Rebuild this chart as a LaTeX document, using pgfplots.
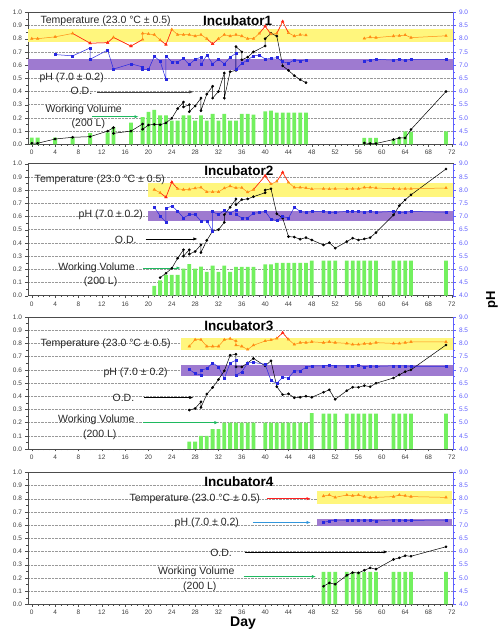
\documentclass[border=0pt]{standalone}
\usepackage{pgfplots}
\pgfplotsset{compat=1.18}
\usepackage{fontspec}
\setmainfont{Liberation Sans}
\usetikzlibrary{arrows.meta}
\definecolor{tband}{RGB}{255,246,125}
\definecolor{pband}{RGB}{158,122,208}
\definecolor{torange}{RGB}{255,140,20}
\definecolor{tred}{RGB}{255,30,30}
\definecolor{phblue}{RGB}{40,40,225}
\definecolor{rblue}{RGB}{95,95,255}
\definecolor{wvgreen}{RGB}{115,240,95}
\definecolor{agreen}{RGB}{30,185,95}
\definecolor{ablue}{RGB}{50,150,220}
\tikzset{
  txt/.style={font=\fontsize{10.5}{12}\selectfont, text=black!85},
  ttl/.style={font=\fontsize{13.5}{15}\selectfont\bfseries},
  arr/.style={-{Latex[length=4pt,width=3.2pt]}, line width=0.6pt}
}
\pgfplotsset{
  common/.style={scale only axis, width=425pt, height=132pt, xmin=-0.65, xmax=72.2,
    tick align=outside, unbounded coords=jump, major tick length=2.5pt, minor tick length=1.5pt,
    /pgf/number format/assume math mode=true,
    ticklabel style={font=\fontsize{6.5}{7}\selectfont}},
  leftax/.style={common, ymin=0, ymax=1, ytick={0,0.1,0.2,0.3,0.4,0.5,0.6,0.7,0.8,0.9,1.0},
    minor y tick num=1, xtick={0,4,...,72}, minor x tick num=3, tick pos=left,
    ymajorgrids, grid style={densely dotted, black!40, line width=0.4pt},
    axis line style={black!70}, tick style={black!70},
    xticklabel style={text=black!75},
    yticklabel style={text=black!75, /pgf/number format/.cd, fixed, fixed zerofill, precision=1}},
  rightax/.style={common, ymin=4, ymax=9, axis y line*=right, axis x line=none,
    ytick={4,4.5,...,9}, minor y tick num=1, axis line style={rblue}, tick style={rblue},
    yticklabel style={text=rblue, /pgf/number format/.cd, fixed, fixed zerofill, precision=1}},
  bars/.style={ybar, bar width=0.65, bar shift=0pt, fill=wvgreen, draw=none},
  odl/.style={black, line width=0.5pt, mark=*, mark size=1.1pt},
  phl/.style={phblue, line width=0.5pt, mark=square*, mark size=1.0pt},
  tl/.style={torange, line width=0.5pt, mark=triangle*, mark size=1.4pt},
  tredl/.style={tred, line width=0.5pt},
  tredm/.style={only marks, tred, mark=triangle*, mark size=1.5pt}
}
\begin{document}
\begin{tikzpicture}
\useasboundingbox (0,0) rectangle (500pt,633pt);
% ================= Panel 1 =================
\begin{axis}[leftax, at={(28pt,488.7pt)}, anchor=south west]
\addplot[fill=tband, draw=none] coordinates {(-0.65,0.778) (72.2,0.778) (72.2,0.874) (-0.65,0.874)} -- cycle;
\addplot[fill=pband, draw=none] coordinates {(-0.65,0.563) (72.2,0.563) (72.2,0.644) (-0.65,0.644)} -- cycle;
\addplot[bars] coordinates {(0,0.05) (1,0.05) (4,0.05) (7,0.05) (10,0.085) (13,0.09) (14,0.13) (17,0.165) (19,0.205) (20,0.245) (21,0.26) (22,0.22) (23,0.22) (24,0.18) (25,0.18) (26,0.22) (27,0.22) (28,0.18) (29,0.22) (30,0.18) (31,0.23) (32,0.18) (33,0.23) (34,0.18) (35,0.18) (36,0.23) (37,0.23) (38,0.225) (40,0.25) (41,0.255) (42,0.24) (43,0.24) (44,0.24) (45,0.24) (46,0.24) (47,0.24) (57,0.048) (58,0.048) (59,0.048) (62,0.04) (63,0.05) (64,0.098) (65,0.095) (71,0.098)};
\addplot[odl] coordinates {(0,0.008) (1,0.008) (4,0.04) (7,0.053) (10,0.058) (13,0.10) (14,0.126) (14,0.083) (17,0.10) (19,0.154) (19,0.114) (20,0.146) (21,0.151) (22,0.148) (23,0.162) (24,0.197) (25,0.27) (26,0.32) (26,0.283) (27,0.30) (27,0.247) (28,0.29) (29,0.35) (29,0.255) (30,0.38) (31,0.44) (31,0.35) (32,0.40) (33,0.54) (33,0.35) (34,0.55) (35,0.56) (35,0.74) (36,0.70) (36,0.64) (37,0.66) (38,0.70) (40,0.745) (40,0.80) (41,0.84) (42,0.82) (43,0.594) (44,0.56) (45,0.52) (46,0.49) (47,0.467) (52,nan) (57,0.01) (58,0.006) (59,0.006) (62,0.036) (63,0.048) (64,0.048) (65,0.112) (71,0.40)};
\node[ttl] at (axis cs:35.3,0.937) {Incubator1};
\node[txt, anchor=west] at (axis cs:0.9,0.932) {Temperature (23.0 °C ± 0.5)};
\node[txt, anchor=west] at (axis cs:0.74,0.507) {pH (7.0 ± 0.2)};
\node[txt] at (axis cs:8.5,0.403) {O.D.};
\draw[arr, black!75] (axis cs:11.2,0.397) -- (axis cs:27.7,0.397);
\node[txt] at (axis cs:8.9,0.265) {Working Volume};
\node[txt] at (axis cs:9.7,0.159) {(200 L)};
\draw[arr, agreen] (axis cs:10.4,0.209) -- (axis cs:18.3,0.209);
\end{axis}
\begin{axis}[rightax, at={(28pt,488.7pt)}, anchor=south west]
\addplot[tl] coordinates {(0,8.00) (1,8.00) (4,8.07) (7,8.20) (10,7.83) (13,7.85) (14,8.05) (17,7.72) (19,7.97) (19,8.20) (20,8.18) (21,8.15) (22,7.95) (23,7.78) (24,8.35) (25,8.15) (26,8.15) (27,8.15) (28,8.10) (29,8.15) (30,8.00) (31,7.80) (32,8.00) (33,8.15) (34,8.10) (35,8.15) (36,8.10) (37,8.00) (38,8.00) (39,8.20) (40,8.47) (41,8.17) (42,8.20) (43,8.65) (44,8.22) (45,8.10) (46,8.15) (47,8.13) (52,nan) (57,8.01) (58,8.06) (59,8.04) (62,8.10) (63,8.11) (64,8.14) (65,8.04) (71,8.11)};
\addplot[tredl] coordinates {(7,8.20) (10,7.83) (13,7.85) (14,8.05) (17,7.72) (19,7.97) (20,nan) (22,7.95) (23,7.78) (24,8.35) (28,nan) (30,8.00) (31,7.80) (32,8.00) (35,nan) (39,8.20) (40,8.47) (41,8.17) (41.5,nan) (42,8.20) (43,8.65) (44,8.22)};
\addplot[tredm] coordinates {(10,7.83) (13,7.85) (17,7.72) (23,7.78) (31,7.80) (40,8.47) (43,8.65)};
\addplot[phl] coordinates {(4,7.40) (7,7.35) (10,7.65) (10,7.22) (13,7.57) (14,6.85) (17,7.05) (19,6.93) (19,6.83) (20,6.83) (21,7.33) (22,7.15) (23,6.45) (23,7.35) (24,7.12) (25,7.12) (26,7.25) (27,7.02) (28,7.22) (29,7.30) (29,7.02) (30,7.38) (31,7.05) (32,7.22) (33,7.05) (34,7.30) (35,7.45) (35,6.84) (36,7.06) (37,7.20) (38,7.35) (39,7.38) (40,7.23) (41,7.25) (42,7.28) (43,7.13) (44,7.07) (45,7.20) (46,7.16) (47,7.20) (52,nan) (57,7.15) (58,7.18) (59,7.22) (62,7.19) (63,7.22) (64,7.18) (65,7.22) (71,7.22)};
\end{axis}
% ================= Panel 2 =================
\begin{axis}[leftax, at={(28pt,337.3pt)}, anchor=south west]
\addplot[fill=tband, draw=none] coordinates {(19.9,0.749) (72.2,0.749) (72.2,0.855) (19.9,0.855)} -- cycle;
\addplot[fill=pband, draw=none] coordinates {(19.9,0.563) (72.2,0.563) (72.2,0.645) (19.9,0.645)} -- cycle;
\addplot[bars] coordinates {(21,0.074) (22,0.117) (23,0.157) (24,0.157) (25,0.157) (26,0.205) (27,0.24) (28,0.205) (29,0.22) (30,0.18) (31,0.228) (32,0.18) (33,0.228) (34,0.18) (35,0.218) (36,0.218) (37,0.218) (38,0.218) (40,0.238) (41,0.238) (42,0.248) (43,0.248) (44,0.248) (45,0.248) (46,0.248) (47,0.248) (48,0.266) (50,0.266) (51,0.266) (52,0.266) (54,0.266) (55,0.266) (56,0.266) (57,0.266) (58,0.266) (59,0.266) (62,0.266) (63,0.266) (64,0.266) (65,0.266) (71,0.266)};
\addplot[odl] coordinates {(22,0.137) (23,0.17) (24,0.208) (25,0.284) (26,0.348) (26,0.30) (27,0.348) (27,0.315) (28,0.335) (29,0.386) (29,0.327) (30,0.419) (31,0.49) (32,0.50) (33,0.556) (33,0.614) (34,0.67) (35,0.733) (35,0.69) (36,0.728) (37,0.733) (38,0.75) (40,0.78) (40,0.80) (41,0.81) (42,0.62) (43,0.588) (44,0.448) (45,0.444) (46,0.428) (47,0.44) (48,0.422) (50,0.384) (51,0.402) (52,0.36) (54,0.41) (55,0.436) (56,0.422) (57,0.43) (58,0.44) (59,0.478) (62,0.612) (63,0.682) (64,0.726) (65,0.764) (71,0.96)};
\node[ttl] at (axis cs:35.5,0.944) {Incubator2};
\node[txt, anchor=west] at (axis cs:-0.1,0.88) {Temperature (23.0 °C ± 0.5)};
\node[txt, anchor=west] at (axis cs:7.44,0.614) {pH (7.0 ± 0.2)};
\node[txt] at (axis cs:16.1,0.42) {O.D.};
\draw[arr, black] (axis cs:19.5,0.43) -- (axis cs:28.4,0.43);
\node[txt] at (axis cs:11.1,0.21) {Working Volume};
\node[txt] at (axis cs:11.8,0.105) {(200 L)};
\draw[arr, agreen] (axis cs:19.1,0.21) -- (axis cs:25.5,0.21);
\end{axis}
\begin{axis}[rightax, at={(28pt,337.3pt)}, anchor=south west]
\addplot[tl] coordinates {(21,8.02) (22,7.90) (23,7.73) (24,8.30) (25,8.05) (26,8.02) (27,8.03) (28,8.07) (29,8.10) (30,7.93) (31,7.93) (32,7.93) (33,8.07) (34,8.15) (35,8.08) (36,8.09) (37,7.92) (38,8.02) (40,8.54) (41,8.23) (42,8.33) (43,8.67) (44,8.29) (45,8.10) (46,8.10) (47,8.08) (48,8.04) (50,8.05) (51,8.04) (52,8.05) (54,8.04) (55,8.05) (56,8.05) (57,8.10) (58,8.10) (59,8.08) (62,8.05) (63,8.04) (64,8.05) (65,8.05) (71,8.08)};
\addplot[tredl] coordinates {(22,7.90) (23,7.73) (24,8.30) (25,8.05) (30,nan) (38,8.02) (40,8.54) (41,8.23) (41.5,nan) (42,8.33) (43,8.67) (44,8.29)};
\addplot[tredm] coordinates {(23,7.73) (24,8.30) (40,8.54) (43,8.67)};
\addplot[phl] coordinates {(21,7.36) (22,7.02) (23,6.78) (23,7.30) (24,7.40) (25,7.20) (26,6.95) (27,7.07) (28,7.07) (29,6.83) (30,6.83) (31,6.45) (31,7.18) (32,7.07) (33,7.23) (34,7.13) (35,7.25) (35,7.07) (36,6.95) (37,6.95) (38,7.12) (39,7.15) (40,7.19) (41,6.90) (42,6.84) (43,7.00) (44,6.94) (45,7.35) (46,7.19) (47,7.16) (48,7.19) (50,7.19) (51,7.16) (52,7.16) (54,7.19) (55,7.19) (56,7.19) (57,7.16) (58,7.19) (59,7.16) (62,7.19) (63,7.16) (64,7.16) (65,7.19) (71,7.16)};
\end{axis}
% ================= Panel 3 =================
\begin{axis}[leftax, at={(28pt,184pt)}, anchor=south west]
\addplot[fill=tband, draw=none] coordinates {(25.5,0.748) (72.2,0.748) (72.2,0.844) (25.5,0.844)} -- cycle;
\addplot[fill=pband, draw=none] coordinates {(25.5,0.552) (72.2,0.552) (72.2,0.635) (25.5,0.635)} -- cycle;
\addplot[bars] coordinates {(27,0.055) (28,0.055) (29,0.10) (30,0.10) (31,0.15) (32,0.15) (33,0.20) (34,0.20) (35,0.20) (36,0.20) (37,0.20) (38,0.20) (40,0.20) (41,0.20) (42,0.20) (43,0.20) (44,0.20) (45,0.20) (46,0.20) (47,0.20) (48,0.272) (50,0.268) (51,0.268) (52,0.268) (54,0.268) (55,0.268) (56,0.268) (57,0.268) (58,0.268) (59,0.268) (62,0.268) (63,0.268) (64,0.268) (65,0.268) (71,0.268)};
\addplot[odl] coordinates {(27,0.295) (28,0.307) (29,0.358) (29,0.315) (30,0.416) (31,0.466) (32,0.526) (33,0.592) (34,0.71) (35,0.718) (35,0.622) (36,0.622) (37,0.652) (38,0.686) (40,0.63) (41,0.668) (42,0.472) (43,0.412) (44,0.418) (45,0.388) (46,0.392) (47,0.40) (48,0.392) (50,0.43) (51,0.448) (52,0.376) (54,0.442) (55,0.468) (56,0.468) (57,0.48) (58,0.472) (59,0.498) (62,0.538) (63,0.562) (64,0.586) (65,0.60) (71,0.788)};
\node[ttl] at (axis cs:35.5,0.937) {Incubator3};
\node[txt, anchor=west] at (axis cs:0.9,0.80) {Temperature (23.0 °C ± 0.5)};
\node[txt, anchor=west] at (axis cs:11.7,0.58) {pH (7.0 ± 0.2)};
\node[txt] at (axis cs:15.7,0.385) {O.D.};
\draw[arr, black] (axis cs:19.3,0.39) -- (axis cs:27.7,0.39);
\node[txt] at (axis cs:11.05,0.22) {Working Volume};
\node[txt] at (axis cs:11.65,0.11) {(200 L)};
\draw[arr, agreen] (axis cs:19.1,0.2) -- (axis cs:32.0,0.2);
\end{axis}
\begin{axis}[rightax, at={(28pt,184pt)}, anchor=south west]
\addplot[tl] coordinates {(27,7.89) (28,8.14) (29,8.14) (30,7.89) (31,7.89) (32,7.89) (33,8.14) (34,8.18) (35,8.09) (35,7.93) (36,7.89) (37,7.77) (38,7.93) (40,8.09) (41,8.13) (42,8.19) (43,8.40) (44,8.15) (45,7.96) (46,8.03) (47,8.03) (48,8.06) (50,8.03) (51,8.06) (52,8.03) (54,8.00) (55,7.96) (56,7.96) (57,7.99) (58,7.99) (59,8.03) (62,8.00) (63,8.00) (64,8.03) (65,8.06) (71,8.06)};
\addplot[tredl] coordinates {(42,8.19) (43,8.40) (44,8.15)};
\addplot[tredm] coordinates {(43,8.40)};
\addplot[phl] coordinates {(27,7.01) (28,6.86) (29,6.80) (29,6.98) (30,7.05) (31,7.26) (32,7.11) (33,6.67) (34,7.26) (35,7.36) (35,6.80) (36,6.92) (37,7.26) (38,7.28) (40,7.21) (41,6.59) (42,6.49) (43,6.71) (44,6.69) (45,6.96) (46,6.96) (47,7.09) (48,7.15) (50,7.15) (51,7.18) (52,7.15) (54,7.15) (55,7.15) (56,7.18) (57,7.11) (58,7.15) (59,7.13) (62,7.15) (63,7.15) (64,7.15) (65,7.13) (71,7.13)};
\end{axis}
% ================= Panel 4 =================
\begin{axis}[leftax, at={(28pt,28.7pt)}, anchor=south west]
\addplot[fill=tband, draw=none] coordinates {(48.9,0.76) (72.1,0.76) (72.1,0.858) (48.9,0.858)} -- cycle;
\addplot[fill=pband, draw=none] coordinates {(48.9,0.594) (72.1,0.594) (72.1,0.65) (48.9,0.65)} -- cycle;
\addplot[bars] coordinates {(50,0.246) (51,0.246) (52,0.246) (54,0.246) (55,0.246) (56,0.246) (57,0.246) (58,0.246) (59,0.246) (62,0.246) (63,0.246) (64,0.246) (65,0.246) (71,0.246)};
\addplot[odl] coordinates {(50,0.137) (51,0.162) (52,0.152) (54,0.22) (55,0.24) (56,0.238) (57,0.258) (58,0.276) (59,0.266) (62,0.34) (63,0.352) (64,0.368) (65,0.364) (71,0.436)};
\node[ttl] at (axis cs:35.5,0.927) {Incubator4};
\node[txt, anchor=east] at (axis cs:39.7,0.80) {Temperature (23.0 °C ± 0.5)};
\draw[arr, tred] (axis cs:40.3,0.80) -- (axis cs:47.8,0.80);
\node[txt, anchor=east] at (axis cs:36.1,0.616) {pH (7.0 ± 0.2)};
\draw[arr, ablue] (axis cs:37.9,0.62) -- (axis cs:47.8,0.62);
\node[txt, anchor=east] at (axis cs:34.9,0.39) {O.D.};
\draw[arr, black] (axis cs:36.5,0.397) -- (axis cs:61.0,0.397);
\node[txt] at (axis cs:28.2,0.245) {Working Volume};
\node[txt] at (axis cs:28.8,0.131) {(200 L)};
\draw[arr, agreen] (axis cs:36.3,0.21) -- (axis cs:48.7,0.21);
\end{axis}
\begin{axis}[rightax, at={(28pt,28.7pt)}, anchor=south west]
\addplot[tl] coordinates {(50,8.10) (51,8.14) (52,8.05) (54,8.14) (55,8.11) (56,8.14) (57,8.08) (58,8.04) (59,8.05) (62,8.08) (63,8.14) (64,8.11) (65,8.08) (71,8.05)};
\addplot[phl] coordinates {(50,7.10) (51,7.16) (52,7.19) (54,7.19) (55,7.20) (56,7.19) (57,7.19) (58,7.19) (59,7.15) (62,7.20) (63,7.19) (64,7.18) (65,7.18) (71,7.19)};
\end{axis}
\node[font=\fontsize{14}{16}\selectfont\bfseries] at (243pt,10pt) {Day};
\node[font=\fontsize{13}{15}\selectfont\bfseries, rotate=90] at (492pt,333pt) {pH};
\end{tikzpicture}
\end{document}
